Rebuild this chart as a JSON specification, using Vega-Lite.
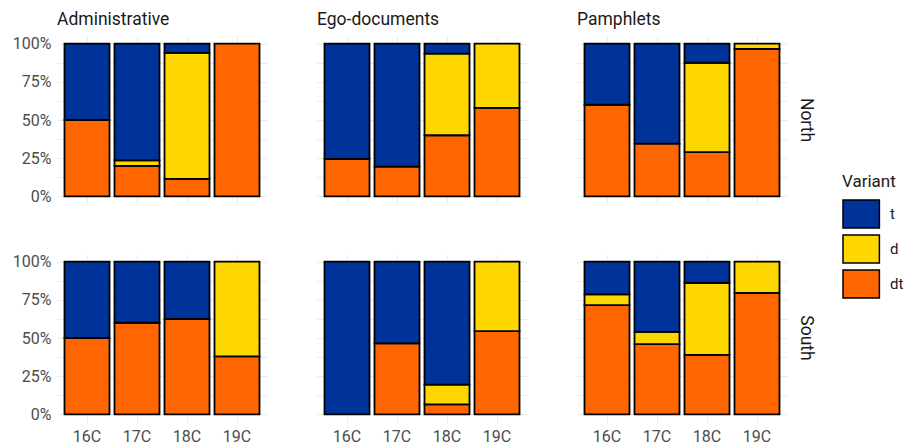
{
  "$schema": "https://vega.github.io/schema/vega-lite/v6.json",
  "padding": {"left": 12, "top": 10, "right": 5, "bottom": 5},
  "data": {
    "values": [
      {"Genre": "Administrative", "Region": "North", "Century": "16C", "Variant": "dt", "Pct": 50},
      {"Genre": "Administrative", "Region": "North", "Century": "16C", "Variant": "t", "Pct": 50},
      {"Genre": "Administrative", "Region": "North", "Century": "17C", "Variant": "dt", "Pct": 20},
      {"Genre": "Administrative", "Region": "North", "Century": "17C", "Variant": "d", "Pct": 3.5},
      {"Genre": "Administrative", "Region": "North", "Century": "17C", "Variant": "t", "Pct": 76.5},
      {"Genre": "Administrative", "Region": "North", "Century": "18C", "Variant": "dt", "Pct": 11.5},
      {"Genre": "Administrative", "Region": "North", "Century": "18C", "Variant": "d", "Pct": 82.5},
      {"Genre": "Administrative", "Region": "North", "Century": "18C", "Variant": "t", "Pct": 6},
      {"Genre": "Administrative", "Region": "North", "Century": "19C", "Variant": "dt", "Pct": 100},
      {"Genre": "Ego-documents", "Region": "North", "Century": "16C", "Variant": "dt", "Pct": 24.5},
      {"Genre": "Ego-documents", "Region": "North", "Century": "16C", "Variant": "t", "Pct": 75.5},
      {"Genre": "Ego-documents", "Region": "North", "Century": "17C", "Variant": "dt", "Pct": 19.5},
      {"Genre": "Ego-documents", "Region": "North", "Century": "17C", "Variant": "t", "Pct": 80.5},
      {"Genre": "Ego-documents", "Region": "North", "Century": "18C", "Variant": "dt", "Pct": 40},
      {"Genre": "Ego-documents", "Region": "North", "Century": "18C", "Variant": "d", "Pct": 53.5},
      {"Genre": "Ego-documents", "Region": "North", "Century": "18C", "Variant": "t", "Pct": 6.5},
      {"Genre": "Ego-documents", "Region": "North", "Century": "19C", "Variant": "dt", "Pct": 58},
      {"Genre": "Ego-documents", "Region": "North", "Century": "19C", "Variant": "d", "Pct": 42},
      {"Genre": "Pamphlets", "Region": "North", "Century": "16C", "Variant": "dt", "Pct": 60},
      {"Genre": "Pamphlets", "Region": "North", "Century": "16C", "Variant": "t", "Pct": 40},
      {"Genre": "Pamphlets", "Region": "North", "Century": "17C", "Variant": "dt", "Pct": 34.5},
      {"Genre": "Pamphlets", "Region": "North", "Century": "17C", "Variant": "t", "Pct": 65.5},
      {"Genre": "Pamphlets", "Region": "North", "Century": "18C", "Variant": "dt", "Pct": 29},
      {"Genre": "Pamphlets", "Region": "North", "Century": "18C", "Variant": "d", "Pct": 58.5},
      {"Genre": "Pamphlets", "Region": "North", "Century": "18C", "Variant": "t", "Pct": 12.5},
      {"Genre": "Pamphlets", "Region": "North", "Century": "19C", "Variant": "dt", "Pct": 96.5},
      {"Genre": "Pamphlets", "Region": "North", "Century": "19C", "Variant": "d", "Pct": 3.5},
      {"Genre": "Administrative", "Region": "South", "Century": "16C", "Variant": "dt", "Pct": 50},
      {"Genre": "Administrative", "Region": "South", "Century": "16C", "Variant": "t", "Pct": 50},
      {"Genre": "Administrative", "Region": "South", "Century": "17C", "Variant": "dt", "Pct": 60},
      {"Genre": "Administrative", "Region": "South", "Century": "17C", "Variant": "t", "Pct": 40},
      {"Genre": "Administrative", "Region": "South", "Century": "18C", "Variant": "dt", "Pct": 62.5},
      {"Genre": "Administrative", "Region": "South", "Century": "18C", "Variant": "t", "Pct": 37.5},
      {"Genre": "Administrative", "Region": "South", "Century": "19C", "Variant": "dt", "Pct": 38},
      {"Genre": "Administrative", "Region": "South", "Century": "19C", "Variant": "d", "Pct": 62},
      {"Genre": "Ego-documents", "Region": "South", "Century": "16C", "Variant": "t", "Pct": 100},
      {"Genre": "Ego-documents", "Region": "South", "Century": "17C", "Variant": "dt", "Pct": 46.5},
      {"Genre": "Ego-documents", "Region": "South", "Century": "17C", "Variant": "t", "Pct": 53.5},
      {"Genre": "Ego-documents", "Region": "South", "Century": "18C", "Variant": "dt", "Pct": 6.5},
      {"Genre": "Ego-documents", "Region": "South", "Century": "18C", "Variant": "d", "Pct": 13},
      {"Genre": "Ego-documents", "Region": "South", "Century": "18C", "Variant": "t", "Pct": 80.5},
      {"Genre": "Ego-documents", "Region": "South", "Century": "19C", "Variant": "dt", "Pct": 54.5},
      {"Genre": "Ego-documents", "Region": "South", "Century": "19C", "Variant": "d", "Pct": 45.5},
      {"Genre": "Pamphlets", "Region": "South", "Century": "16C", "Variant": "dt", "Pct": 71.5},
      {"Genre": "Pamphlets", "Region": "South", "Century": "16C", "Variant": "d", "Pct": 7},
      {"Genre": "Pamphlets", "Region": "South", "Century": "16C", "Variant": "t", "Pct": 21.5},
      {"Genre": "Pamphlets", "Region": "South", "Century": "17C", "Variant": "dt", "Pct": 46},
      {"Genre": "Pamphlets", "Region": "South", "Century": "17C", "Variant": "d", "Pct": 8},
      {"Genre": "Pamphlets", "Region": "South", "Century": "17C", "Variant": "t", "Pct": 46},
      {"Genre": "Pamphlets", "Region": "South", "Century": "18C", "Variant": "dt", "Pct": 39},
      {"Genre": "Pamphlets", "Region": "South", "Century": "18C", "Variant": "d", "Pct": 47},
      {"Genre": "Pamphlets", "Region": "South", "Century": "18C", "Variant": "t", "Pct": 14},
      {"Genre": "Pamphlets", "Region": "South", "Century": "19C", "Variant": "dt", "Pct": 79.5},
      {"Genre": "Pamphlets", "Region": "South", "Century": "19C", "Variant": "d", "Pct": 20.5}
    ]
  },
  "transform": [
    {"calculate": "indexof(['dt','d','t'], datum.Variant)", "as": "StackOrder"}
  ],
  "facet": {
    "row": {
      "field": "Region", "type": "nominal", "title": null,
      "header": {"labelOrient": "right", "labelAngle": 90, "labelPadding": 10, "labelFontSize": 17.5, "labelColor": "#1a1a1a", "labelFont": "Roboto"}
    },
    "column": {
      "field": "Genre", "type": "nominal", "title": null,
      "header": {"labelOrient": "top", "labelAnchor": "start", "labelExpr": "'\u2009\u2009' + datum.label", "labelPadding": 8, "labelFontSize": 17.5, "labelColor": "#1a1a1a", "labelFont": "Roboto"}
    }
  },
  "spacing": {"row": 50, "column": 50},
  "spec": {
    "width": 210,
    "height": 168,
    "mark": {"type": "bar", "stroke": "black", "strokeWidth": 1.8},
    "encoding": {
      "x": {
        "field": "Century", "type": "ordinal", "title": null,
        "scale": {"paddingInner": 0.1, "paddingOuter": 0.15},
        "axis": {"labelAngle": 0, "grid": true, "bandPosition": 0.5}
      },
      "y": {
        "field": "Pct", "type": "quantitative", "title": null, "stack": "zero",
        "scale": {"domain": [-5, 105], "nice": false, "zero": false},
        "axis": {
          "values": [0, 12.5, 25, 37.5, 50, 62.5, 75, 87.5, 100],
          "labelExpr": "datum.value % 25 === 0 ? datum.value + '%' : ''"
        }
      },
      "color": {
        "field": "Variant", "type": "nominal",
        "scale": {"domain": ["t", "d", "dt"], "range": ["#003399", "#FFD700", "#FF6600"]},
        "legend": {
          "orient": "none", "legendX": 785, "legendY": 138,
          "title": "Variant",
          "symbolType": "M-1,-1H1.6V1H-1Z", "symbolSize": 784,
          "symbolStrokeColor": "black", "symbolStrokeWidth": 1.5, "symbolOpacity": 1,
          "labelOffset": 18, "rowPadding": 1,
          "titleFontSize": 17, "titlePadding": 8, "titleFont": "Roboto", "titleFontWeight": "normal", "titleColor": "#1a1a1a",
          "labelFontSize": 15, "labelFont": "Roboto", "labelColor": "#1a1a1a"
        }
      },
      "order": {"field": "StackOrder", "type": "quantitative", "sort": "ascending"}
    }
  },
  "config": {
    "view": {"stroke": null},
    "font": "Roboto",
    "axis": {
      "domain": false, "ticks": false, "gridColor": "#ebebeb", "gridWidth": 1,
      "labelFont": "Roboto", "labelFontSize": 16, "labelColor": "#4d4d4d", "labelPadding": 6
    }
  }
}
